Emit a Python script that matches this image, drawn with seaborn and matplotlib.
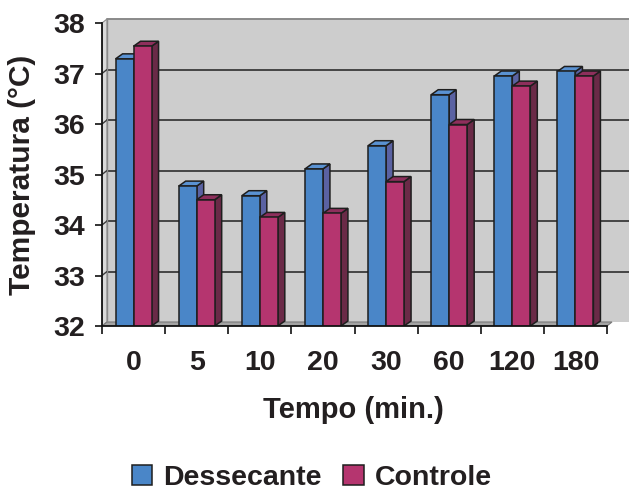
import matplotlib
matplotlib.use("Agg")
import matplotlib.pyplot as plt
from matplotlib.patches import Polygon, Rectangle
import pandas as pd
import seaborn as sns

# Temperature readings over time for the two groups
tempo = ["0", "5", "10", "20", "30", "60", "120", "180"]
dessecante = [37.29, 34.77, 34.58, 35.11, 35.57, 36.58, 36.95, 37.04]
controle = [37.54, 34.50, 34.15, 34.23, 34.86, 35.99, 36.75, 36.95]
grupos = ["Dessecante", "Controle"]
y_ticks = [32, 33, 34, 35, 36, 37, 38]

front_colors = {"Dessecante": "#4a86c8", "Controle": "#b5356f"}
side_colors = {"Dessecante": "#5a62a2", "Controle": "#6a2a47"}
top_colors = {"Dessecante": "#5a92d2", "Controle": "#8e2f5c"}
ink = "#231f20"

df = pd.DataFrame({
    "Tempo": tempo + tempo,
    "Temperatura": dessecante + controle,
    "Grupo": [grupos[0]] * len(tempo) + [grupos[1]] * len(tempo),
})

sns.set_theme(style="white")
plt.rcParams["font.family"] = ["Liberation Sans", "DejaVu Sans"]
plt.rcParams["font.weight"] = "bold"

W, H = 629, 494
fig = plt.figure(figsize=(W / 100, H / 100), dpi=100)

# plot box in pixels (front plane)
left_px, right_px, bottom_px, top_px = 102, 629, 326, 17
x_scale = 505 / len(tempo)          # pixels per category
y_scale = (326 - 23) / (y_ticks[-1] - y_ticks[0])  # pixels per degree
ax = fig.add_axes([left_px / W, (H - bottom_px) / H,
                   (right_px - left_px) / W, (bottom_px - top_px) / H])

sns.barplot(data=df, x="Tempo", y="Temperatura", hue="Grupo", order=tempo,
            hue_order=grupos, palette=front_colors, saturation=1, width=0.57,
            edgecolor="#1e1e1e", linewidth=1.1, ax=ax)
bars = [p for p in ax.patches if isinstance(p, Rectangle) and p.get_height() > 0]
bars = sorted(bars, key=lambda p: p.get_x())

ymin = y_ticks[0]
ymax = y_ticks[-1]
ax.set_xlim(-0.5, -0.5 + (right_px - left_px) / x_scale)
ax.set_ylim(ymin, ymin + (bottom_px - top_px) / y_scale)
x_end = len(tempo) - 0.5

# depth of the back wall and of the bars, in data units
wdx, wdy = 5 / x_scale, 4 / y_scale
bdx, bdy = 7 / x_scale, 5 / y_scale

# back wall
xr = ax.get_xlim()[1] + 1
ax.add_patch(Rectangle((-0.5 + wdx, ymin + wdy), xr, ymax - ymin,
                       facecolor="#cdcdcd", edgecolor="none", zorder=0.2))
ax.plot([-0.5 + wdx, xr], [ymax + wdy, ymax + wdy], color="#8a8a8a",
        lw=1.4, zorder=0.6, clip_on=False)
ax.plot([-0.5 + wdx, -0.5 + wdx], [ymin + wdy, ymax + wdy], color="#8a8a8a",
        lw=1.0, zorder=0.6)
# side wall
ax.add_patch(Polygon([(-0.5, ymin), (-0.5, ymax), (-0.5 + wdx, ymax + wdy),
                      (-0.5 + wdx, ymin + wdy)], closed=True,
                     facecolor="#dadada", edgecolor="#8a8a8a", lw=0.8,
                     zorder=0.3))
# floor
ax.add_patch(Polygon([(-0.5, ymin), (x_end, ymin), (x_end + wdx, ymin + wdy),
                      (-0.5 + wdx, ymin + wdy)], closed=True,
                     facecolor="#a4a4a4", edgecolor="#7a7a7a", lw=0.8,
                     zorder=0.4))
# gridlines on the walls
for v in y_ticks[1:-1]:
    ax.plot([-0.5 + wdx, xr], [v + wdy, v + wdy], color="#3a3a3a", lw=1.3,
            zorder=0.5)
    ax.plot([-0.5, -0.5 + wdx], [v, v + wdy], color="#3a3a3a", lw=1.0,
            zorder=0.5)

# give each bar its top and side faces
for i, p in enumerate(bars):
    grupo = grupos[i % 2]
    x0 = p.get_x()
    x1 = x0 + p.get_width()
    t = p.get_y() + p.get_height()
    z = 2 + 2 * i
    side = Polygon([(x1, ymin), (x1, t), (x1 + bdx, t + bdy),
                    (x1 + bdx, ymin + bdy)], closed=True,
                   facecolor=side_colors[grupo], edgecolor="#1e1e1e",
                   lw=1.1, zorder=z)
    top = Polygon([(x0, t), (x1, t), (x1 + bdx, t + bdy), (x0 + bdx, t + bdy)],
                  closed=True, facecolor=top_colors[grupo],
                  edgecolor="#1e1e1e", lw=1.1, zorder=z)
    ax.add_patch(side)
    ax.add_patch(top)
    p.set_zorder(z + 1)

# axes, ticks and labels
for s in ["top", "right"]:
    ax.spines[s].set_visible(False)
ax.spines["left"].set_bounds(ymin, ymax)
ax.spines["bottom"].set_bounds(-0.5, x_end)
for s in ["left", "bottom"]:
    ax.spines[s].set_color("#111111")
    ax.spines[s].set_linewidth(1.3)
    ax.spines[s].set_zorder(50)

ax.set_yticks(y_ticks)
ax.set_yticklabels([str(v) for v in y_ticks])
ax.set_xticks(range(len(tempo)))
ax.set_xticklabels(tempo)
ax.set_xticks([k - 0.5 for k in range(len(tempo) + 1)], minor=True)
ax.tick_params(axis="y", which="major", left=True, direction="out",
               length=5, width=1.2, color="#111111", pad=7,
               labelsize=20.5, labelcolor=ink)
ax.tick_params(axis="x", which="major", bottom=True, length=0, pad=17,
               labelsize=20.5, labelcolor=ink)
ax.tick_params(axis="x", which="minor", bottom=True, direction="out",
               length=6, width=1.2, color="#111111")
for lab in ax.get_xticklabels() + ax.get_yticklabels():
    lab.set_fontweight("bold")

ax.set_xlabel("")
ax.set_ylabel("")
fig.text(353 / W, 1 - 410 / H, "Tempo (min.)", ha="center", va="center",
         fontsize=21, fontweight="bold", color=ink)
fig.text(22 / W, 1 - 175 / H, "Temperatura (°C)", ha="center", va="center",
         rotation=90, fontsize=21.5, fontweight="bold", color=ink)

sns.move_legend(ax, "center", bbox_to_anchor=(312 / W, 1 - 478 / H),
                bbox_transform=fig.transFigure, ncol=2, frameon=False,
                title=None, fontsize=20.5, handlelength=0.72,
                handleheight=0.72, handletextpad=0.4, columnspacing=0.75,
                borderpad=0.1)
for txt in ax.get_legend().get_texts():
    txt.set_fontweight("bold")
    txt.set_color(ink)

fig.savefig("out.png", dpi=100, facecolor="white")
